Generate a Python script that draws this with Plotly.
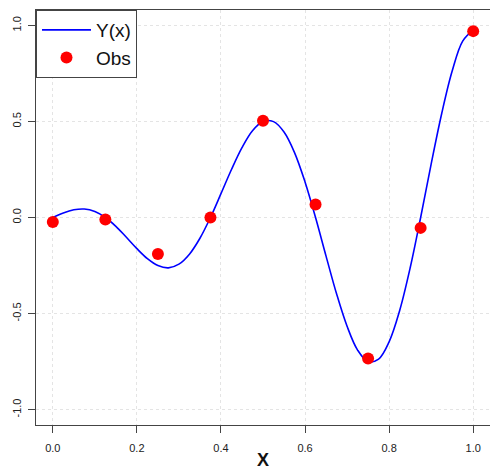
import plotly.graph_objects as go

# Smooth curve Y(x)
curve_x = [0.0, 0.025, 0.05, 0.075, 0.1, 0.125, 0.15, 0.175, 0.2, 0.225,
           0.25, 0.275, 0.3, 0.325, 0.35, 0.375, 0.4, 0.425, 0.45, 0.475,
           0.5, 0.525, 0.55, 0.575, 0.6, 0.625, 0.65, 0.675, 0.7, 0.725,
           0.75, 0.775, 0.8, 0.825, 0.85, 0.875, 0.9, 0.925, 0.95, 0.975, 1.0]
curve_y = [0.0, 0.024, 0.040, 0.044, 0.031, 0.0, -0.046, -0.103, -0.162, -0.214,
           -0.250, -0.262, -0.243, -0.191, -0.108, 0.0, 0.124, 0.250, 0.364, 0.452,
           0.500, 0.499, 0.445, 0.338, 0.185, 0.0, -0.201, -0.397, -0.566, -0.690,
           -0.750, -0.737, -0.647, -0.485, -0.263, 0.0, 0.278, 0.540, 0.762, 0.918, 0.975]

# Observations
obs_x = [0.0, 0.125, 0.25, 0.375, 0.5, 0.625, 0.75, 0.875, 1.0]
obs_y = [-0.023, -0.010, -0.190, 0.000, 0.503, 0.068, -0.734, -0.054, 0.970]

x_ticks = [0.0, 0.2, 0.4, 0.6, 0.8, 1.0]
y_ticks = [-1.0, -0.5, 0.0, 0.5, 1.0]
x_tick_labels = ["0.0", "0.2", "0.4", "0.6", "0.8", "1.0"]
y_tick_labels = ["-1.0", "-0.5", "0.0", "0.5", "1.0"]

fig = go.Figure()
fig.add_trace(go.Scatter(x=curve_x, y=curve_y, mode="lines", name="Y(x)",
                         line=dict(color="#0000FF", width=1.6, shape="spline", smoothing=1.0)))
fig.add_trace(go.Scatter(x=obs_x, y=obs_y, mode="markers", name="Obs",
                         marker=dict(color="#FF0000", size=12, line=dict(width=0))))

axis_common = dict(
    automargin=False,
    showgrid=True, gridcolor="#e4e4e4", griddash="dot", gridwidth=1,
    zeroline=False, showline=True, linecolor="#444444", linewidth=1,
    ticks="outside", ticklen=7, tickcolor="#444444", tickwidth=1,
    tickfont=dict(family="Liberation Sans, Arial, sans-serif", size=11, color="#222222"),
)

fig.update_layout(
    width=490, height=471,
    margin=dict(l=36, r=0, t=10, b=46, autoexpand=False),
    paper_bgcolor="white", plot_bgcolor="white",
    xaxis=dict(range=[-0.04, 1.04], tickvals=x_ticks, ticktext=x_tick_labels,
               mirror=True, ticklabelstandoff=6,
               title=dict(text="<b>X</b>", standoff=0,
                          font=dict(family="Liberation Sans, Arial, sans-serif", size=18, color="#111111")),
               **axis_common),
    yaxis=dict(range=[-1.08, 1.08], tickvals=y_ticks, ticktext=y_tick_labels,
               tickangle=-90, mirror=False, ticklabelstandoff=3, **axis_common),
    showlegend=True,
    legend=dict(x=0, y=1, xanchor="left", yanchor="top",
                bgcolor="white", bordercolor="#444444", borderwidth=1,
                font=dict(family="Liberation Sans, Arial, sans-serif", size=19, color="#111111"),
                itemwidth=49, tracegroupgap=0),
)

# Remove the browser's default body margin so the figure fills the window exactly.
fig.write_html("out.html",
               config={"displayModeBar": False},
               post_script="document.body.style.margin='0';document.body.style.overflow='hidden';")
